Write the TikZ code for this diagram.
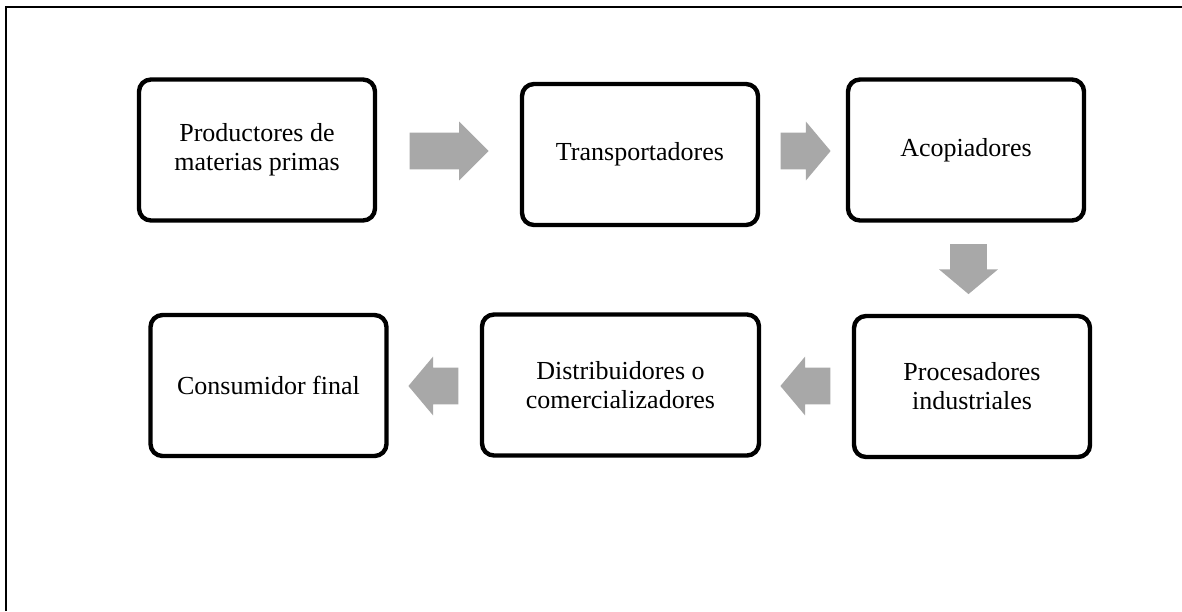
\documentclass[tikz,border=0pt]{standalone}
\usepackage{fontspec}
\setmainfont{Liberation Serif}
\usetikzlibrary{calc,shapes.arrows}
\definecolor{flowgray}{RGB}{168,168,168}
\begin{document}
\begin{tikzpicture}[x=0.5pt,y=-0.5pt,
    box/.style={draw, line width=2.2pt, rounded corners=6pt, align=center, inner sep=0pt,
      minimum width=118pt, minimum height=70.5pt, font=\fontsize{13}{14.5}\selectfont},
    flow/.style={single arrow, fill=flowgray, anchor=tail, inner xsep=0pt, inner ysep=9pt,
      single arrow head extend=5.5pt, single arrow tip angle=100, minimum height=25pt}]
  \useasboundingbox (0,0) rectangle (1182,611);
  \draw[line width=1pt] (6,611) -- (6,7) -- (1182,7);

  \node[box] (P) at (257,150) {Productores de\\materias primas};
  \node[box] (T) at (640,154.5) {Transportadores};
  \node[box] (A) at (966,150) {Acopiadores};
  \node[box] (PI) at (972,386.5) {Procesadores\\industriales};
  \node[box, minimum width=138.5pt] (DC) at (620.5,385) {Distribuidores o\\comercializadores};
  \node[box] (CF) at (268.5,385.5) {Consumidor final};

  \node[flow, minimum height=39.5pt, single arrow tip angle=90] (PT) at ([xshift=16pt]P.east |- 0,151) {};
  \node[flow] (TA) at ([xshift=10pt]T.east |- 0,151) {};
  \node[flow, shape border rotate=270, inner xsep=9pt, inner ysep=0pt] (API) at ([yshift=-10.5pt]A.south -| 968.5,0) {};
  \node[flow, shape border rotate=180] (PIDC) at ([xshift=-10.5pt]PI.west |- 0,386) {};
  \node[flow, shape border rotate=180] (DCCF) at ([xshift=-10.5pt]DC.west |- 0,386) {};
\end{tikzpicture}
\end{document}
